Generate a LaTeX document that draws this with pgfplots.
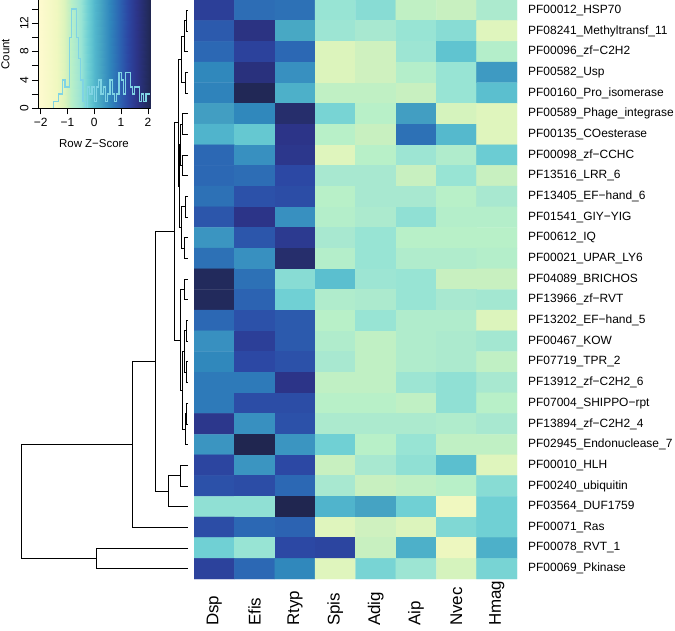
\documentclass[border=0pt]{standalone}
\usepackage{pgfplots}
\pgfplotsset{compat=1.18}
\usepackage{fontspec}
\setmainfont{Liberation Sans}

% z-score colour scale (yellow -> green -> blue), positions = (z+2.1)*20
\pgfplotsset{
  colormap={zs}{rgb255(0pt)=(255,250,208) rgb255(14pt)=(240,248,192)
    rgb255(20pt)=(220,244,188) rgb255(23pt)=(200,240,192) rgb255(25pt)=(184,240,200)
    rgb255(29pt)=(168,232,208) rgb255(32pt)=(152,228,212) rgb255(34pt)=(136,220,212)
    rgb255(37pt)=(112,208,212) rgb255(40pt)=(96,196,208) rgb255(43pt)=(80,180,204)
    rgb255(46pt)=(72,168,196) rgb255(51pt)=(56,144,192) rgb255(53pt)=(48,136,188)
    rgb255(60pt)=(44,104,180) rgb255(67pt)=(44,72,164) rgb255(74pt)=(44,52,136)
    rgb255(82pt)=(34,42,92) rgb255(84pt)=(32,38,80)},
}
\definecolor{histcol}{RGB}{128,212,228}

\begin{document}
\begin{tikzpicture}
\path[use as bounding box] (0,0) rectangle (675bp,-631bp);

% ---------------- heatmap ----------------
\begin{axis}[
  at={(194bp,0bp)}, anchor=north west, scale only axis,
  width=323bp, height=579bp,
  xmin=-0.5, xmax=7.5, ymin=-0.5, ymax=27.5, y dir=reverse,
  colormap name=zs, point meta min=-2.1, point meta max=2.1,
  axis line style={draw=none}, major tick length=0pt,
  xtick={0,...,7},
  xticklabels={Dsp,Efis,Rtyp,Spis,Adig,Aip,Nvec,Hmag},
  xticklabel style={font=\fontsize{17}{19}\selectfont, inner sep=0pt,
    anchor=west, yshift=-47bp, rotate=90},
  ytick={0,...,27}, yticklabel pos=right,
  yticklabels={PF00012\_HSP70, PF08241\_Methyltransf\_11, PF00096\_zf−C2H2,
    PF00582\_Usp, PF00160\_Pro\_isomerase, PF00589\_Phage\_integrase,
    PF00135\_COesterase, PF00098\_zf−CCHC, PF13516\_LRR\_6, PF13405\_EF−hand\_6,
    PF01541\_GIY−YIG, PF00612\_IQ, PF00021\_UPAR\_LY6, PF04089\_BRICHOS,
    PF13966\_zf−RVT, PF13202\_EF−hand\_5, PF00467\_KOW, PF07719\_TPR\_2,
    PF13912\_zf−C2H2\_6, PF07004\_SHIPPO−rpt, PF13894\_zf−C2H2\_4,
    PF02945\_Endonuclease\_7, PF00010\_HLH, PF00240\_ubiquitin,
    PF03564\_DUF1759, PF00071\_Ras, PF00078\_RVT\_1, PF00069\_Pkinase},
  yticklabel style={font=\fontsize{12}{14}\selectfont, inner sep=0pt,
    anchor=west, xshift=11bp},
]
\addplot[matrix plot*, mesh/cols=8, point meta=explicit] coordinates {
(0,0)[1.40] (1,0)[0.85] (2,0)[0.80] (3,0)[-0.50] (4,0)[-0.40] (5,0)[-0.90] (6,0)[-0.95] (7,0)[-0.70]
(0,1)[1.05] (1,1)[1.65] (2,1)[0.20] (3,1)[-0.55] (4,1)[-0.65] (5,1)[-0.50] (6,1)[-0.40] (7,1)[-1.15]
(0,2)[0.90] (1,2)[1.35] (2,2)[0.90] (3,2)[-1.10] (4,2)[-1.00] (5,2)[-0.55] (6,2)[-0.10] (7,2)[-0.80]
(0,3)[0.55] (1,3)[1.70] (2,3)[0.45] (3,3)[-1.10] (4,3)[-1.00] (5,3)[-0.80] (6,3)[-0.50] (7,3)[0.35]
(0,4)[0.60] (1,4)[2.05] (2,4)[0.10] (3,4)[-0.90] (4,4)[-0.90] (5,4)[-0.95] (6,4)[-0.50] (7,4)[-0.05]
(0,5)[0.30] (1,5)[0.55] (2,5)[1.85] (3,5)[-0.30] (4,5)[-0.85] (5,5)[0.30] (6,5)[-1.05] (7,5)[-1.15]
(0,6)[0.05] (1,6)[-0.15] (2,6)[1.60] (3,6)[-0.85] (4,6)[-0.95] (5,6)[0.80] (6,6)[0.00] (7,6)[-1.15]
(0,7)[0.90] (1,7)[0.45] (2,7)[1.55] (3,7)[-1.15] (4,7)[-0.85] (5,7)[-0.55] (6,7)[-0.75] (7,7)[-0.20]
(0,8)[0.90] (1,8)[0.85] (2,8)[1.25] (3,8)[-0.65] (4,8)[-0.65] (5,8)[-0.95] (6,8)[-0.50] (7,8)[-0.95]
(0,9)[0.80] (1,9)[1.15] (2,9)[1.20] (3,9)[-0.85] (4,9)[-0.65] (5,9)[-0.65] (6,9)[-0.85] (7,9)[-0.65]
(0,10)[1.10] (1,10)[1.60] (2,10)[0.45] (3,10)[-0.80] (4,10)[-0.70] (5,10)[-0.45] (6,10)[-0.80] (7,10)[-0.80]
(0,11)[0.40] (1,11)[1.10] (2,11)[1.50] (3,11)[-0.65] (4,11)[-0.50] (5,11)[-0.85] (6,11)[-0.85] (7,11)[-0.85]
(0,12)[0.80] (1,12)[0.45] (2,12)[1.85] (3,12)[-0.80] (4,12)[-0.50] (5,12)[-0.75] (6,12)[-0.75] (7,12)[-0.80]
(0,13)[2.00] (1,13)[0.80] (2,13)[-0.40] (3,13)[-0.05] (4,13)[-0.55] (5,13)[-0.50] (6,13)[-0.95] (7,13)[-0.95]
(0,14)[2.00] (1,14)[0.95] (2,14)[-0.25] (3,14)[-0.75] (4,14)[-0.70] (5,14)[-0.50] (6,14)[-0.65] (7,14)[-0.60]
(0,15)[0.90] (1,15)[1.15] (2,15)[1.05] (3,15)[-0.85] (4,15)[-0.50] (5,15)[-0.75] (6,15)[-0.75] (7,15)[-1.10]
(0,16)[0.45] (1,16)[1.40] (2,16)[1.05] (3,16)[-0.75] (4,16)[-0.90] (5,16)[-0.75] (6,16)[-0.70] (7,16)[-0.60]
(0,17)[0.55] (1,17)[1.25] (2,17)[1.15] (3,17)[-0.65] (4,17)[-0.90] (5,17)[-0.75] (6,17)[-0.70] (7,17)[-0.90]
(0,18)[0.70] (1,18)[0.70] (2,18)[1.60] (3,18)[-0.90] (4,18)[-0.90] (5,18)[-0.55] (6,18)[-0.45] (7,18)[-0.65]
(0,19)[0.70] (1,19)[1.20] (2,19)[1.20] (3,19)[-0.85] (4,19)[-0.85] (5,19)[-0.90] (6,19)[-0.45] (7,19)[-0.85]
(0,20)[1.55] (1,20)[0.45] (2,20)[1.15] (3,20)[-0.70] (4,20)[-0.70] (5,20)[-0.70] (6,20)[-0.75] (7,20)[-0.65]
(0,21)[0.40] (1,21)[2.10] (2,21)[0.40] (3,21)[-0.25] (4,21)[-0.85] (5,21)[-0.50] (6,21)[-0.90] (7,21)[-0.90]
(0,22)[1.30] (1,22)[0.40] (2,22)[1.25] (3,22)[-0.95] (4,22)[-0.65] (5,22)[-0.45] (6,22)[-0.05] (7,22)[-1.15]
(0,23)[1.15] (1,23)[1.20] (2,23)[0.90] (3,23)[-0.65] (4,23)[-0.95] (5,23)[-0.90] (6,23)[-0.85] (7,23)[-0.40]
(0,24)[-0.45] (1,24)[-0.45] (2,24)[2.10] (3,24)[0.05] (4,24)[0.25] (5,24)[-0.25] (6,24)[-1.40] (7,24)[-0.25]
(0,25)[1.20] (1,25)[0.90] (2,25)[0.95] (3,25)[-1.15] (4,25)[-1.00] (5,25)[-1.10] (6,25)[-0.35] (7,25)[-0.25]
(0,26)[-0.25] (1,26)[-0.50] (2,26)[1.25] (3,26)[1.30] (4,26)[-0.95] (5,26)[0.10] (6,26)[-1.35] (7,26)[0.10]
(0,27)[1.35] (1,27)[0.90] (2,27)[0.55] (3,27)[-1.15] (4,27)[-0.30] (5,27)[-0.55] (6,27)[-1.05] (7,27)[-0.30]
};
\end{axis}

% ---------------- row dendrogram ----------------
\begin{axis}[
  at={(21bp,0bp)}, anchor=north west, scale only axis,
  width=167bp, height=579bp,
  xmin=0, xmax=167, x dir=reverse,
  ymin=-0.5, ymax=27.5, y dir=reverse,
  hide axis, unbounded coords=jump,
]
\addplot[black, line width=0.8bp] coordinates {
(0,0) (2,0) (2,1) (0,1) (nan,nan)
(2,0.5) (4,0.5) (4,2) (0,2) (nan,nan)
(0,3) (3,3) (3,4) (0,4) (nan,nan)
(4,1.25) (7,1.25) (7,3.5) (3,3.5) (nan,nan)
(0,5) (6,5) (6,6) (0,6) (nan,nan)
(0,7) (6,7) (6,8) (0,8) (nan,nan)
(6,5.5) (7.5,5.5) (7.5,7.5) (6,7.5) (nan,nan)
(0,9) (3,9) (3,10) (0,10) (nan,nan)
(0,11) (4,11) (4,12) (0,12) (nan,nan)
(3,9.5) (6.5,9.5) (6.5,11.5) (4,11.5) (nan,nan)
(7.5,6.5) (9,6.5) (9,10.5) (6.5,10.5) (nan,nan)
(7,2.375) (10,2.375) (10,8.5) (9,8.5) (nan,nan)
(0,13) (4,13) (4,14) (0,14) (nan,nan)
(0,15) (2,15) (2,16) (0,16) (nan,nan)
(0,17) (1.5,17) (1.5,18) (0,18) (nan,nan)
(2,15.5) (4,15.5) (4,17.5) (1.5,17.5) (nan,nan)
(0,19) (2,19) (2,20) (0,20) (nan,nan)
(2,19.5) (3,19.5) (3,21) (0,21) (nan,nan)
(4,16.5) (5.5,16.5) (5.5,20.25) (3,20.25) (nan,nan)
(4,13.5) (8,13.5) (8,18.375) (5.5,18.375) (nan,nan)
(10,5.4375) (13.5,5.4375) (13.5,15.9375) (8,15.9375) (nan,nan)
(0,22) (8,22) (8,23) (0,23) (nan,nan)
(8,22.5) (20,22.5) (20,24) (0,24) (nan,nan)
(13.5,10.6875) (33,10.6875) (33,23.25) (20,23.25) (nan,nan)
(33,16.96875) (56,16.96875) (56,25) (0,25) (nan,nan)
(0,26) (92,26) (92,27) (0,27) (nan,nan)
(56,20.984375) (167,20.984375) (167,26.5) (92,26.5)
};
\end{axis}

% ---------------- colour key with histogram ----------------
\begin{axis}[
  at={(38bp,0bp)}, anchor=north west, scale only axis,
  width=112bp, height=108.3bp,
  xmin=-2.1, xmax=2.08, ymin=0, ymax=15.25,
  colormap name=zs, point meta min=-2.1, point meta max=2.1,
  axis on top,
  axis x line=bottom, axis y line=left, axis line style={-, line width=0.6bp},
  tick align=outside, major tick length=6bp, tick style={black, line width=0.6bp},
  xtick={-2,...,2}, xticklabels={−2,−1,0,1,2},
  ytick={0,2,...,14}, yticklabels={0,,4,,8,,12,},
  ticklabel style={font=\fontsize{12}{13}\selectfont},
  yticklabel style={rotate=90, anchor=south},
  xlabel={Row Z−Score}, ylabel={Count},
  xlabel style={at={(axis description cs:0.5,-0.325)}, anchor=center,
    font=\fontsize{11.5}{13}\selectfont},
  ylabel style={at={(axis description cs:-0.29,0.5)}, anchor=center,
    font=\fontsize{11.5}{13}\selectfont},
]
\addplot[surf, shader=interp, mesh/cols=9, point meta=x] coordinates {
(-2.1,0) (-1.5,0) (-1,0) (-0.5,0) (0,0) (0.5,0) (1,0) (1.5,0) (2.08,0)
(-2.1,15.25) (-1.5,15.25) (-1,15.25) (-0.5,15.25) (0,15.25) (0.5,15.25) (1,15.25) (1.5,15.25) (2.08,15.25)
};
\addplot[const plot, histcol, line width=1.3bp] coordinates {
(-2.100,0) (-1.512,1) (-1.428,1) (-1.344,2) (-1.260,2) (-1.176,4) (-1.092,3)
(-1.008,3) (-0.924,10) (-0.840,14) (-0.756,14) (-0.672,10) (-0.588,7)
(-0.504,4) (-0.420,1) (-0.336,0) (-0.252,3) (-0.168,2) (-0.084,3) (0.000,1)
(0.084,3) (0.168,4) (0.252,2) (0.336,3) (0.420,1) (0.504,2) (0.588,4)
(0.672,2) (0.756,1) (0.840,2) (0.924,5) (1.008,4) (1.092,2) (1.176,5)
(1.260,5) (1.344,3) (1.428,2) (1.512,3) (1.596,3) (1.680,1) (1.764,2)
(1.848,1) (1.932,2) (2.016,2) (2.080,2)
};
\end{axis}
\end{tikzpicture}
\end{document}
